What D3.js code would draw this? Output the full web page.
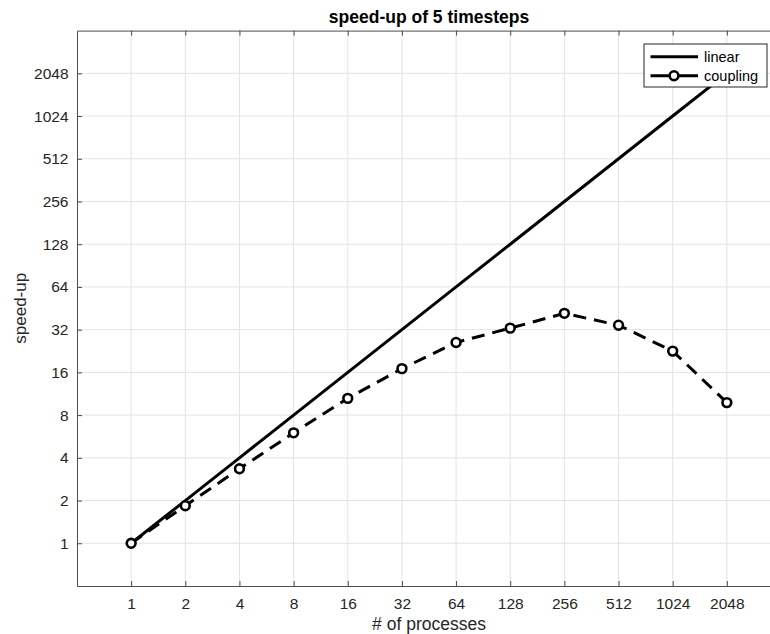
<!DOCTYPE html>
<html>
<head>
<meta charset="utf-8">
<script src="https://cdn.jsdelivr.net/npm/d3@7"></script>
<style>
  html, body { margin: 0; padding: 0; background: #fff; }
  svg { display: block; font-family: "Liberation Sans", Arial, Helvetica, sans-serif; }
</style>
</head>
<body>
<svg id="chart" width="770" height="634"></svg>
<script>
// Process counts (x) and measured speed-up for 5 timesteps
const processes = [1, 2, 4, 8, 16, 32, 64, 128, 256, 512, 1024, 2048];
const linearSpeedup = [1, 2, 4, 8, 16, 32, 64, 128, 256, 512, 1024, 2048];
const couplingSpeedup = [1, 1.84, 3.35, 6.0, 10.5, 17.0, 26.0, 32.8, 41.7, 34.4, 22.6, 9.8];
const tickValues = [1, 2, 4, 8, 16, 32, 64, 128, 256, 512, 1024, 2048];
const seriesNames = ["linear", "coupling"];

const svg = d3.select("#chart");
const plotLeft = 77, plotRight = 781, plotTop = 30.6, plotBottom = 586;
const textColor = "#262626";

const x = d3.scaleLog().base(2).domain([0.5, 4096]).range([plotLeft, plotRight]);
const y = d3.scaleLog().base(2).domain([0.5, 4096]).range([plotBottom, plotTop]);

// grid
const grid = svg.append("g");
grid.selectAll("line.vx").data(tickValues).join("line")
  .attr("class", "vx")
  .attr("x1", d => x(d)).attr("x2", d => x(d))
  .attr("y1", plotTop).attr("y2", plotBottom)
  .attr("stroke", "#e3e3e3").attr("stroke-width", 1);
grid.selectAll("line.hy").data(tickValues).join("line")
  .attr("class", "hy")
  .attr("x1", plotLeft).attr("x2", plotRight)
  .attr("y1", d => y(d)).attr("y2", d => y(d))
  .attr("stroke", "#e3e3e3").attr("stroke-width", 1);

// axes (ticks point inward)
const xAxis = d3.axisBottom(x).tickValues(tickValues).tickSizeInner(-5).tickSizeOuter(0).tickFormat(d3.format("d"));
const gx = svg.append("g").attr("transform", `translate(0,${plotBottom})`).call(xAxis);
gx.selectAll("text").attr("y", 12).attr("dy", "0.71em");

const xTop = d3.axisTop(x).tickValues(tickValues).tickSizeInner(-5).tickSizeOuter(0).tickFormat("");
svg.append("g").attr("transform", `translate(0,${plotTop})`).call(xTop);

const yAxis = d3.axisLeft(y).tickValues(tickValues).tickSizeInner(-5).tickSizeOuter(0).tickFormat(d3.format("d"));
const gy = svg.append("g").attr("transform", `translate(${plotLeft},0)`).call(yAxis);
gy.selectAll("text").attr("x", -8.5);

svg.selectAll(".domain").attr("stroke", "#4d4d4d").attr("stroke-width", 1);
svg.selectAll(".tick line").attr("stroke", "#4d4d4d").attr("stroke-width", 1);
svg.selectAll(".tick text").attr("fill", textColor).attr("font-size", 15.5)
  .attr("font-family", "Liberation Sans, Arial, sans-serif");

// series
const lineGen = d3.line().x(d => x(d[0])).y(d => y(d[1]));
const linearPts = processes.map((p, i) => [p, linearSpeedup[i]]);
const couplingPts = processes.map((p, i) => [p, couplingSpeedup[i]]);

svg.append("path").datum(linearPts).attr("d", lineGen)
  .attr("fill", "none").attr("stroke", "#000").attr("stroke-width", 3);

svg.append("path").datum(couplingPts).attr("d", lineGen)
  .attr("fill", "none").attr("stroke", "#000").attr("stroke-width", 3)
  .attr("stroke-dasharray", "13,8");

svg.selectAll("circle.pt").data(couplingPts).join("circle")
  .attr("class", "pt")
  .attr("cx", d => x(d[0])).attr("cy", d => y(d[1])).attr("r", 4.4)
  .attr("fill", "#fff").attr("stroke", "#000").attr("stroke-width", 2.6);

// title and axis labels
svg.append("text").attr("x", (plotLeft + plotRight) / 2).attr("y", 23)
  .attr("text-anchor", "middle").attr("font-weight", "bold").attr("font-size", 17.5)
  .attr("fill", "#000").text("speed-up of 5 timesteps");
svg.append("text").attr("x", (plotLeft + plotRight) / 2).attr("y", 630)
  .attr("text-anchor", "middle").attr("font-size", 17.5)
  .attr("fill", textColor).text("# of processes");
svg.append("text").attr("transform", `translate(26,${(plotTop + plotBottom) / 2}) rotate(-90)`)
  .attr("text-anchor", "middle").attr("font-size", 17)
  .attr("fill", textColor).text("speed-up");

// legend
const lg = svg.append("g").attr("transform", "translate(644,44)");
lg.append("rect").attr("width", 123).attr("height", 43)
  .attr("fill", "#fff").attr("stroke", "#262626").attr("stroke-width", 1);
seriesNames.forEach((name, i) => {
  const ly = 12.7 + i * 19;
  lg.append("line").attr("x1", 6.5).attr("x2", 54).attr("y1", ly).attr("y2", ly)
    .attr("stroke", "#000").attr("stroke-width", 3);
  if (name === "coupling") {
    lg.append("circle").attr("cx", 30).attr("cy", ly).attr("r", 4.4)
      .attr("fill", "#fff").attr("stroke", "#000").attr("stroke-width", 2.6);
  }
  lg.append("text").attr("x", 60).attr("y", ly).attr("dy", "0.35em")
    .attr("font-size", 14.5).attr("fill", "#000").text(name);
});
</script>
</body>
</html>
